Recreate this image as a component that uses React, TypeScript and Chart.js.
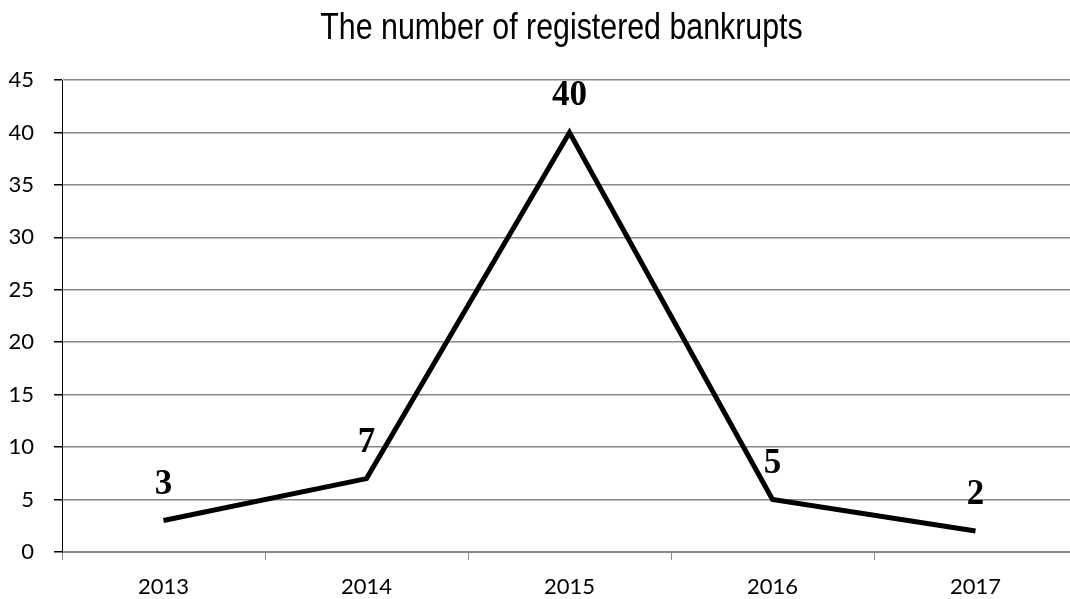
import React, { useEffect, useRef } from "react";
import { Chart, registerables } from "chart.js";

Chart.register(...registerables);

const years = ["2013", "2014", "2015", "2016", "2017"];
const bankrupts = [3, 7, 40, 5, 2];
const titleText = "The number of registered bankrupts";

const valueLabels = {
  id: "valueLabels",
  afterDatasetsDraw(chart: any) {
    const ctx = chart.ctx;
    const meta = chart.getDatasetMeta(0);
    ctx.save();
    ctx.font = "bold 35px 'Liberation Serif', 'Times New Roman', serif";
    ctx.fillStyle = "#000";
    ctx.textAlign = "center";
    ctx.textBaseline = "alphabetic";
    meta.data.forEach((pt: any, i: number) => {
      ctx.fillText(String(bankrupts[i]), pt.x, pt.y - 27);
    });
    ctx.restore();
  },
};

// Narrow title (Arial Narrow look: Liberation Sans compressed horizontally)
const narrowTitle = {
  id: "narrowTitle",
  afterDraw(chart: any) {
    const ctx = chart.ctx;
    const area = chart.chartArea;
    const cx = (area.left + area.right) / 2 - 8;
    ctx.save();
    ctx.font = "37px 'Liberation Sans', Arial, sans-serif";
    ctx.fillStyle = "#000";
    ctx.textAlign = "center";
    ctx.textBaseline = "alphabetic";
    ctx.translate(cx, 39);
    ctx.scale(0.82, 1);
    ctx.fillText(titleText, 0, 0);
    ctx.restore();
  },
};

export default function App() {
  const ref = useRef<HTMLCanvasElement>(null);
  useEffect(() => {
    const canvas = ref.current!;
    const chart = new Chart(canvas, {
      type: "line",
      data: {
        labels: years,
        datasets: [
          {
            data: bankrupts,
            borderColor: "#000",
            borderWidth: 5,
            pointRadius: 0,
            tension: 0,
            fill: false,
          },
        ],
      },
      options: {
        animation: false,
        responsive: false,
        devicePixelRatio: 1,
        layout: { padding: { left: 0, right: 0, top: 80, bottom: 0 } },
        plugins: {
          legend: { display: false },
          tooltip: { enabled: false },
          title: { display: false },
        },
        scales: {
          x: {
            offset: true,
            afterFit: (scale: any) => {
              scale.height = 47;
            },
            grid: {
              offset: true,
              drawOnChartArea: false,
              drawTicks: true,
              tickLength: 8,
              color: "#888888",
            },
            border: { color: "#888888", width: 1 },
            ticks: {
              color: "#000",
              padding: 14,
              font: { family: "Lato, 'Open Sans', sans-serif", size: 22 },
            },
          },
          y: {
            min: 0,
            max: 45,
            afterFit: (scale: any) => {
              scale.width = 62;
            },
            grid: {
              color: "#888888",
              lineWidth: 1.5,
              tickLength: 8,
              tickColor: "#000",
            },
            border: { color: "#000", width: 1 },
            ticks: {
              stepSize: 5,
              color: "#000",
              padding: 20,
              font: { family: "Lato, 'Open Sans', sans-serif", size: 22 },
            },
          },
        },
      },
      plugins: [valueLabels, narrowTitle],
    });
    return () => chart.destroy();
  }, []);
  return (
    <div style={{ position: "fixed", left: 0, top: 0, width: 1077, height: 599, background: "#fff" }}>
      <canvas ref={ref} width={1077} height={599} style={{ width: 1077, height: 599, display: "block" }} />
    </div>
  );
}
